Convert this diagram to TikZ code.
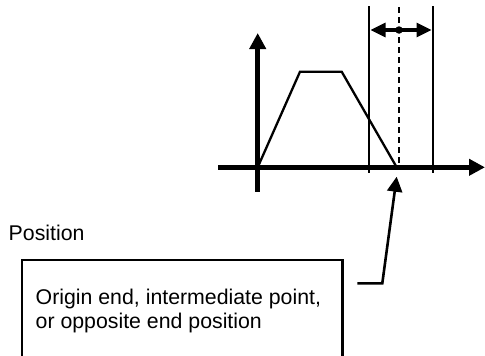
\documentclass[tikz,border=0pt]{standalone}
\usepackage{fontspec}
\setmainfont{Liberation Sans}
\usetikzlibrary{arrows.meta}
\tikzset{
  axisline/.style={line width=4.5pt,-{Triangle[length=16pt,width=16pt]}},
  trapline/.style={line width=2.3pt,line join=miter},
  limitline/.style={line width=1.9pt},
  midline/.style={line width=2.3pt,dash pattern=on 6pt off 4pt},
  spanarrow/.style={line width=3.2pt,{Triangle[length=15pt,width=14pt]}-{Triangle[length=15pt,width=14pt]}},
  pointerline/.style={line width=2.6pt,-{Triangle[length=15pt,width=15pt]}},
  txt/.style={inner sep=0pt,font=\fontsize{21.3}{23.5}\selectfont},
  framebox/.style={draw,line width=2.3pt,inner sep=0pt,minimum width=320.6pt,minimum height=120pt}
}
\begin{document}
\begin{tikzpicture}[x=1pt,y=-1pt]
\useasboundingbox (0,0) rectangle (485,356);
\clip (0,0) rectangle (485,356);
% axes
\coordinate (o) at (257.7,167.3);
\coordinate (xs) at (218,167.3);
\coordinate (xe) at (485,167.3);
\coordinate (ys) at (257.7,191.7);
\coordinate (ye) at (257.7,33);
\draw[axisline] (xs) -- (xe);
\draw[axisline] (ys) -- (ye);
% trapezoid
\coordinate (p1) at (300,71.7);
\coordinate (p2) at (341.7,71.7);
\coordinate (p3) at (396.7,167.3);
\draw[trapline] (o) -- (p1) -- (p2) -- (p3);
% limit lines
\coordinate (l1t) at (369.3,6);
\coordinate (l1b) at (369.3,173);
\coordinate (l2t) at (432.7,6);
\coordinate (l2b) at (432.7,173);
\draw[limitline] (l1t) -- (l1b);
\draw[limitline] (l2t) -- (l2b);
\coordinate (mt) at (399,7);
\coordinate (mb) at (399,167.3);
\draw[midline] (mt) -- (mb);
% range arrow
\coordinate (ra) at (370.5,30);
\coordinate (rb) at (431.5,30);
\draw[spanarrow] (ra) -- (rb);
\node[circle,fill,inner sep=0pt,minimum size=7.5pt] (dot) at (399,30) {};
% labels
\node[txt,anchor=base west] (pos) at (8.5,240) {Position};
\node[framebox,anchor=north west] (box) at (20.7,259) {};
\node[txt,anchor=north west,align=left] (boxtext) at (35.5,289) {Origin end, intermediate point,\\or opposite end position};
% pointer
\coordinate (pend) at (357.3,283.3);
\coordinate (pknee) at (382.3,283.3);
\coordinate (ptip) at (396.7,176.7);
\draw[pointerline] (pend) -- (pknee) -- (ptip);
\end{tikzpicture}
\end{document}
